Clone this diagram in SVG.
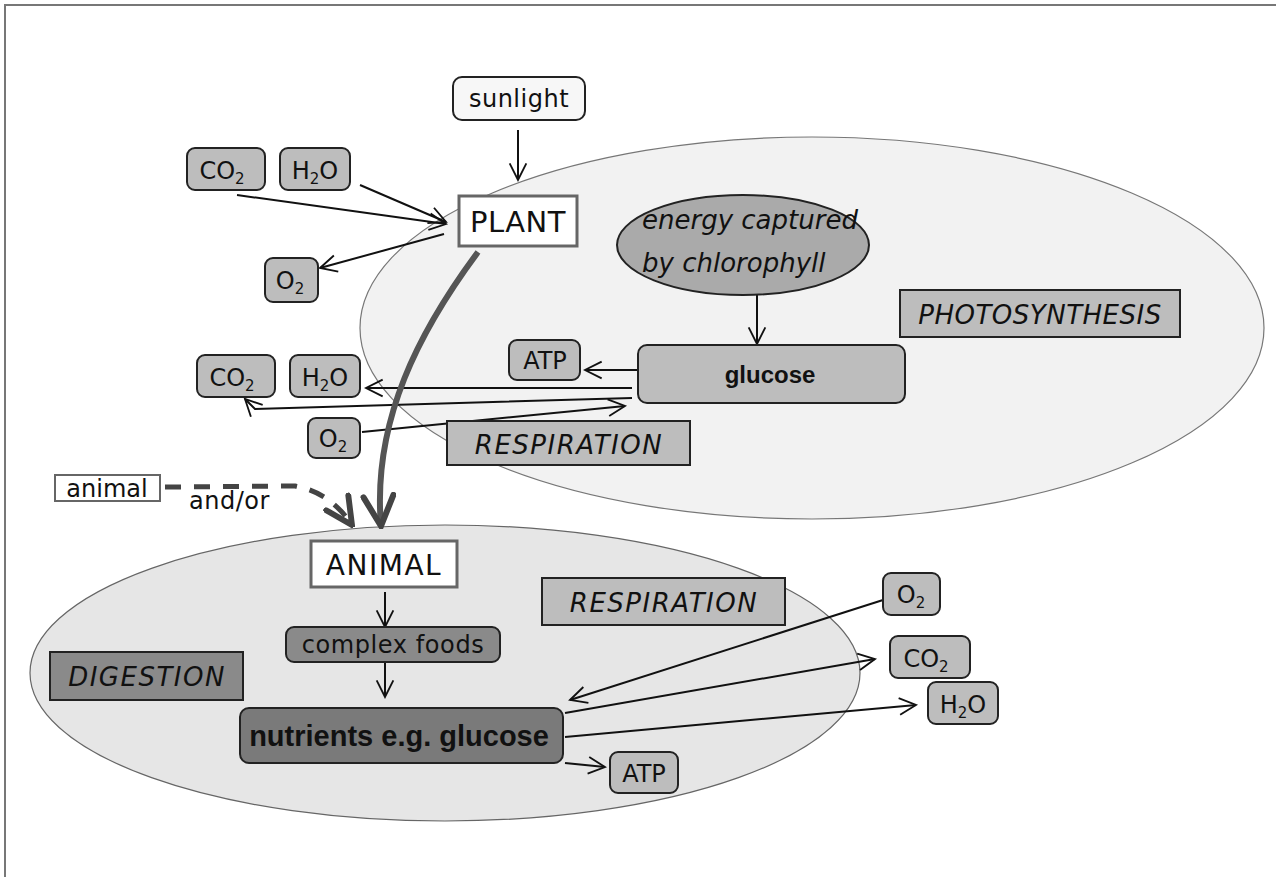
<svg xmlns="http://www.w3.org/2000/svg" width="1276" height="877" viewBox="0 0 1276 877">
  <defs>
    <marker id="open" viewBox="0 0 12 12" refX="11" refY="6" markerWidth="20" markerHeight="20" markerUnits="userSpaceOnUse" orient="auto">
      <path d="M1,1 L11,6 L1,11" fill="none" stroke="#111" stroke-width="1.1"/>
    </marker>
    <marker id="openBig" viewBox="0 0 12 12" refX="11" refY="6" markerWidth="36" markerHeight="36" markerUnits="userSpaceOnUse" orient="auto">
      <path d="M1,1 L11,6 L1,11" fill="none" stroke="#444" stroke-width="2" stroke-linecap="round"/>
    </marker>
    <marker id="openDash" viewBox="0 0 12 12" refX="11" refY="6" markerWidth="32" markerHeight="32" markerUnits="userSpaceOnUse" orient="auto">
      <path d="M1,1 L11,6 L1,11" fill="none" stroke="#444" stroke-width="2.2" stroke-linecap="round"/>
    </marker>
  </defs>
  <style>
    text { font-family: "DejaVu Sans", "Liberation Sans", sans-serif; fill: #111; }
    .hand { font-size: 24px; }
    .ital { font-style: italic; font-size: 26px; }
    .bold { font-family: "Liberation Sans", Arial, sans-serif; font-weight: bold; }
    .chip { fill: #bdbdbd; stroke: #222; stroke-width: 2; }
    .label { fill: #bdbdbd; stroke: #222; stroke-width: 2; }
    .dark { fill: #8a8a8a; stroke: #222; stroke-width: 2; }
    .frame { fill: #fff; stroke: #666; stroke-width: 3; }
    .conn { fill: none; stroke: #111; stroke-width: 2; marker-end: url(#open); }
  </style>

  <rect width="1276" height="877" fill="#fff"/>
  <!-- page frame: top and left edges only -->
  <path d="M5,877 L5,5 L1276,5" fill="none" stroke="#777" stroke-width="2"/>

  <!-- process regions -->
  <g id="region-photosynthesis">
    <ellipse cx="812" cy="328" rx="452" ry="191" fill="#f2f2f2" stroke="#777" stroke-width="1.2"/>
  </g>
  <g id="region-animal">
    <ellipse cx="445" cy="673" rx="415" ry="148" fill="#e6e6e6" stroke="#666" stroke-width="1.2"/>
  </g>

  <g id="connectors">
    <line class="conn" x1="518" y1="130" x2="518" y2="180"/>
    <line class="conn" x1="237" y1="195" x2="446" y2="224"/>
    <line class="conn" x1="360" y1="185" x2="446" y2="222"/>
    <line class="conn" x1="444" y1="234" x2="320" y2="268"/>
    <line class="conn" x1="757" y1="282" x2="757" y2="344"/>
    <line class="conn" x1="638" y1="370" x2="585" y2="370"/>
    <line class="conn" x1="632" y1="388" x2="366" y2="388"/>
    <polyline class="conn" points="632,398 255,409 245,399"/>
    <line class="conn" x1="362" y1="432" x2="625" y2="406"/>
    <path d="M478,252 C420,330 372,420 381,526" fill="none" stroke="#555" stroke-width="6" marker-end="url(#openBig)"/>
    <path d="M165,487 L295,486 Q330,492 352,525" fill="none" stroke="#444" stroke-width="5" stroke-dasharray="16,13" marker-end="url(#openDash)"/>
    <line class="conn" x1="385" y1="592" x2="385" y2="627"/>
    <line class="conn" x1="385" y1="663" x2="385" y2="697"/>
    <line class="conn" x1="883" y1="600" x2="570" y2="700"/>
    <line class="conn" x1="565" y1="713" x2="875" y2="659"/>
    <line class="conn" x1="565" y1="737" x2="916" y2="705"/>
    <line class="conn" x1="565" y1="763" x2="605" y2="767"/>
  </g>

  <g id="sunlight">
    <rect x="453" y="77" width="132" height="43" rx="9" fill="#f7f7f7" stroke="#222" stroke-width="2"/>
    <text x="519" y="107" text-anchor="middle" class="hand" font-size="25" letter-spacing="0.5">sunlight</text>
  </g>
  <g id="plant">
    <rect x="459" y="196" width="118" height="50" class="frame"/>
    <text x="518" y="232" text-anchor="middle" font-size="29" letter-spacing="0.5">PLANT</text>
  </g>
  <g id="co2-in">
    <rect x="187" y="148" width="78" height="42" rx="8" class="chip"/>
    <text x="222" y="179" text-anchor="middle" class="hand" font-size="26">CO<tspan font-size="15" dy="5">2</tspan></text>
  </g>
  <g id="h2o-in">
    <rect x="280" y="148" width="70" height="42" rx="8" class="chip"/>
    <text x="315" y="179" text-anchor="middle" class="hand" font-size="26">H<tspan font-size="15" dy="5">2</tspan><tspan dy="-5">O</tspan></text>
  </g>
  <g id="o2-out">
    <rect x="265" y="258" width="53" height="44" rx="8" class="chip"/>
    <text x="290" y="289" text-anchor="middle" class="hand" font-size="26">O<tspan font-size="15" dy="5">2</tspan></text>
  </g>

  <g id="chlorophyll">
    <ellipse cx="743" cy="245" rx="126" ry="50" fill="#aaaaaa" stroke="#222" stroke-width="2"/>
    <text x="642" y="229" class="ital" font-size="24">energy captured</text>
    <text x="642" y="272" class="ital" font-size="24">by chlorophyll</text>
  </g>
  <g id="glucose">
    <rect x="638" y="345" width="267" height="58" rx="9" class="chip"/>
    <text x="770" y="383" text-anchor="middle" class="bold" font-size="24">glucose</text>
  </g>
  <g id="photosynthesis-label">
    <rect x="900" y="290" width="280" height="47" class="label"/>
    <text x="1040" y="324" text-anchor="middle" class="ital" font-size="27" letter-spacing="0.5">PHOTOSYNTHESIS</text>
  </g>
  <g id="atp-plant">
    <rect x="509" y="340" width="71" height="40" rx="8" class="chip"/>
    <text x="545" y="369" text-anchor="middle" class="hand" font-size="26">ATP</text>
  </g>
  <g id="co2-plant">
    <rect x="197" y="355" width="78" height="42" rx="8" class="chip"/>
    <text x="232" y="386" text-anchor="middle" class="hand" font-size="26">CO<tspan font-size="15" dy="5">2</tspan></text>
  </g>
  <g id="h2o-plant">
    <rect x="290" y="355" width="70" height="42" rx="8" class="chip"/>
    <text x="325" y="386" text-anchor="middle" class="hand" font-size="26">H<tspan font-size="15" dy="5">2</tspan><tspan dy="-5">O</tspan></text>
  </g>
  <g id="o2-plant">
    <rect x="308" y="418" width="52" height="40" rx="8" class="chip"/>
    <text x="333" y="447" text-anchor="middle" class="hand" font-size="26">O<tspan font-size="15" dy="5">2</tspan></text>
  </g>
  <g id="respiration-plant">
    <rect x="447" y="421" width="243" height="44" class="label"/>
    <text x="569" y="454" text-anchor="middle" class="ital" font-size="28" letter-spacing="1.5">RESPIRATION</text>
  </g>

  <g id="animal-source">
    <rect x="55" y="475" width="105" height="26" fill="#fff" stroke="#666" stroke-width="2"/>
    <text x="107" y="497" text-anchor="middle" class="hand" font-size="26">animal</text>
  </g>
  <text x="189" y="509" class="hand" font-size="25" letter-spacing="0.5">and/or</text>

  <g id="animal">
    <rect x="311" y="541" width="146" height="46" class="frame"/>
    <text x="384" y="575" text-anchor="middle" font-size="28" letter-spacing="1.5">ANIMAL</text>
  </g>
  <g id="complex-foods">
    <rect x="286" y="627" width="214" height="35" rx="8" class="dark"/>
    <text x="393" y="653" text-anchor="middle" class="hand" font-size="25" letter-spacing="0.6">complex foods</text>
  </g>
  <g id="nutrients">
    <rect x="240" y="708" width="323" height="55" rx="9" fill="#7a7a7a" stroke="#222" stroke-width="2"/>
    <text x="399" y="746" text-anchor="middle" class="bold" font-size="29">nutrients e.g. glucose</text>
  </g>
  <g id="digestion-label">
    <rect x="50" y="652" width="193" height="48" class="dark"/>
    <text x="147" y="686" text-anchor="middle" class="ital" font-size="28" letter-spacing="1.5">DIGESTION</text>
  </g>
  <g id="respiration-animal">
    <rect x="542" y="578" width="243" height="47" class="label"/>
    <text x="664" y="612" text-anchor="middle" class="ital" font-size="28" letter-spacing="1.5">RESPIRATION</text>
  </g>
  <g id="o2-animal">
    <rect x="883" y="573" width="57" height="42" rx="8" class="chip"/>
    <text x="911" y="603" text-anchor="middle" class="hand" font-size="26">O<tspan font-size="15" dy="5">2</tspan></text>
  </g>
  <g id="co2-animal">
    <rect x="890" y="636" width="80" height="42" rx="8" class="chip"/>
    <text x="926" y="667" text-anchor="middle" class="hand" font-size="26">CO<tspan font-size="15" dy="5">2</tspan></text>
  </g>
  <g id="h2o-animal">
    <rect x="928" y="682" width="70" height="42" rx="8" class="chip"/>
    <text x="963" y="713" text-anchor="middle" class="hand" font-size="26">H<tspan font-size="15" dy="5">2</tspan><tspan dy="-5">O</tspan></text>
  </g>
  <g id="atp-animal">
    <rect x="610" y="752" width="68" height="41" rx="8" class="chip"/>
    <text x="644" y="782" text-anchor="middle" class="hand" font-size="26">ATP</text>
  </g>
</svg>
